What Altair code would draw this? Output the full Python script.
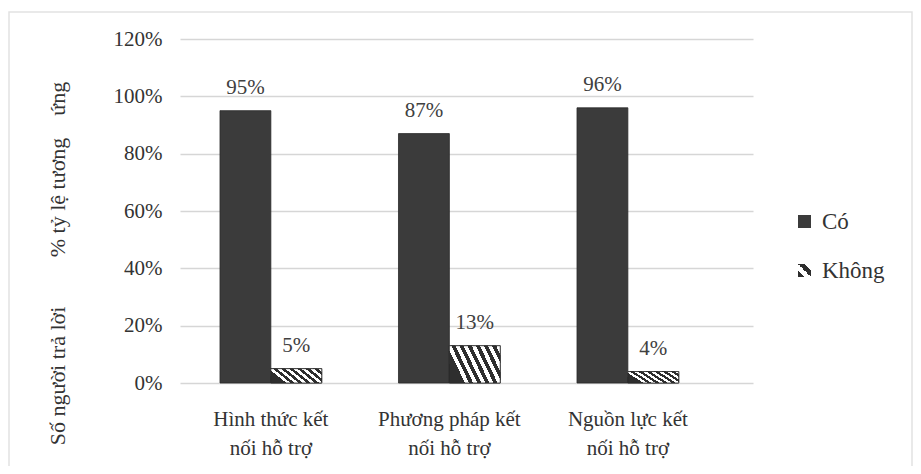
import json
import altair as alt
import pandas as pd

categories = ["Hình thức kết\nnối hỗ trợ", "Phương pháp kết\nnối hỗ trợ", "Nguồn lực kết\nnối hỗ trợ"]
series = ["Có", "Không"]
co_values = [0.95, 0.87, 0.96]
khong_values = [0.05, 0.13, 0.04]
y_ticks = [0, 0.2, 0.4, 0.6, 0.8, 1.0, 1.2]
y_title = "Số người trả lời" + "\u00a0" * 9 + "% tỷ lệ tương" + "\u00a0" * 4 + "ứng"

rows = []
for c, a, b in zip(categories, co_values, khong_values):
    rows.append({"cat": c, "series": "Có", "value": a})
    rows.append({"cat": c, "series": "Không", "value": b})
df = pd.DataFrame(rows)

FONT = "Liberation Serif"
DARK = "#3b3b3b"
TXT = "#333333"


def make_hatch(n, y1, y2):
    stops = []
    for i in range(n):
        a0 = i / n
        a1 = (i + 0.5) / n
        a2 = (i + 1) / n
        stops += [
            {"offset": a0, "color": "#2e2e2e"},
            {"offset": a1, "color": "#2e2e2e"},
            {"offset": a1, "color": "#ffffff"},
            {"offset": a2, "color": "#ffffff"},
        ]
    return {"gradient": "linear", "x1": 0, "y1": y1, "x2": 1, "y2": y2, "stops": stops}


hatch = make_hatch(7, 0.35, 0)
legend_hatch = make_hatch(2, 1, 0)
legend_hatch_expr = json.dumps(legend_hatch)

x_scale = alt.Scale(paddingInner=0.43, paddingOuter=0.32, align=0.35)
x_enc = alt.X("cat:N", sort=categories, title=None, scale=x_scale,
              axis=alt.Axis(labelAngle=0, labelExpr="split(datum.label, '\\n')",
                            labelFont=FONT, labelFontSize=21, labelLineHeight=29,
                            labelColor=TXT, labelPadding=25,
                            ticks=False, domain=False, grid=False))
y_enc = alt.Y("value:Q", scale=alt.Scale(domain=[0, 1.2], nice=False),
              title=y_title,
              axis=alt.Axis(values=y_ticks, format=".0%", labelFont=FONT, labelFontSize=21,
                            labelColor=TXT, labelPadding=18, ticks=False, domain=False,
                            gridColor="#d6d6d6", gridWidth=1.3,
                            titleFont=FONT, titleFontSize=22, titleFontWeight="normal",
                            titleColor=TXT, titleX=-111, titleY=224, titleAngle=270))

bars = alt.Chart(df).mark_bar(stroke="#2a2a2a", strokeWidth=0.8).encode(
    x=x_enc,
    xOffset=alt.XOffset("series:N", sort=series),
    y=y_enc,
    color=alt.Color("series:N", sort=series,
                    scale=alt.Scale(domain=series,
                                    range=[DARK, alt.ExprRef(expr=legend_hatch_expr)]),
                    legend=alt.Legend(title=None, orient="none", legendX=613, legendY=171,
                                      labelFont=FONT, labelFontSize=23, labelColor=TXT,
                                      labelOffset=6, symbolType="square", symbolSize=169,
                                      rowPadding=25, symbolStrokeWidth=0, symbolOpacity=1)),
)

hatched = alt.Chart(df).transform_filter(alt.datum.series == "Không").mark_bar(
    fill=hatch, stroke="#2a2a2a", strokeWidth=0.8).encode(
    x=alt.X("cat:N", sort=categories, scale=x_scale),
    xOffset=alt.XOffset("series:N", sort=series),
    y="value:Q",
)

labels = alt.Chart(df).mark_text(font=FONT, fontSize=21, color="#404040",
                                 baseline="middle", dy=-23).encode(
    x=alt.X("cat:N", sort=categories),
    xOffset=alt.XOffset("series:N", sort=series),
    y="value:Q",
    text=alt.Text("value:Q", format=".0%"),
)

frame = alt.Chart(pd.DataFrame({"a": [0]})).mark_rect(
    fill=None, stroke="#e2e2e2", strokeWidth=1.5).encode(
    x=alt.value(-171), x2=alt.value(732), y=alt.value(-27), y2=alt.value(429))

chart = alt.layer(frame, bars, hatched, labels).properties(
    width=573, height=344,
    padding={"left": 172, "top": 31, "right": 160, "bottom": 83},
    autosize=alt.AutoSizeParams(type="none"),
    background="white",
).configure_view(stroke=None)

chart.save("out.html", embed_options={"renderer": "svg", "actions": False})
